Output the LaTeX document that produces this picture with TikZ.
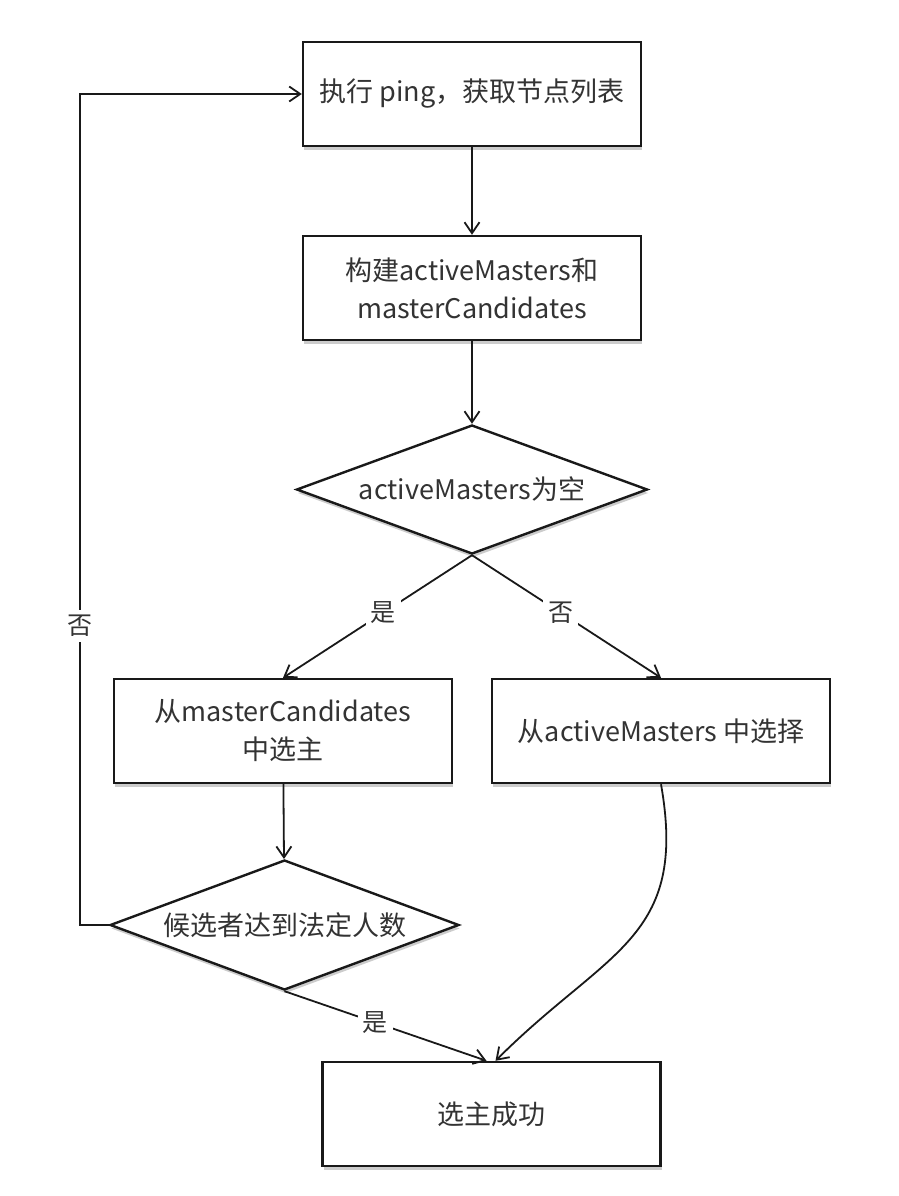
\documentclass[tikz,border=0pt]{standalone}
\usepackage{fontspec}
\usepackage{tikz}
\usetikzlibrary{shapes.geometric,arrows.meta,shadows}
\newfontfamily\cjk{Noto Sans CJK SC}

\begin{document}
\begin{tikzpicture}[x=1pt, y=-1pt, node distance=194pt,
    every node/.style={font=\cjk\fontsize{27}{38}\selectfont, text=black!80, align=center},
    box/.style={rectangle, draw=black!90, line width=2.4pt, fill=white, minimum width=338pt, minimum height=104pt,
      drop shadow={shadow xshift=1pt, shadow yshift=-3.5pt, opacity=0.4}},
    decision/.style={diamond, draw=black!90, line width=2.4pt, fill=white, aspect=2.7, inner sep=0pt,
      drop shadow={shadow xshift=1pt, shadow yshift=-3.5pt, opacity=0.4}},
    lbl/.style={fill=white, inner sep=5pt, font=\cjk\fontsize{25}{30}\selectfont},
    arr/.style={draw=black!90, line width=1.8pt, -{Straight Barb[length=11pt, width=15pt, line width=1.8pt]}}]
      \useasboundingbox (0,0) rectangle (898,1196);

      \node[box] (ping) at (472,94) {执行 ping，获取节点列表};
      \node[box] (build) [below of=ping] {构建activeMasters和\\masterCandidates};
      \node[decision, minimum width=351pt, minimum height=129pt] (check) [below of=build, yshift=-7.5pt] {activeMasters为空};
      \node[box] (fromcand) [below of=check, xshift=-189pt, yshift=-47.5pt] {从masterCandidates\\中选主};
      \node[box] (fromactive) [below of=check, xshift=189pt, yshift=-47.5pt] {从activeMasters 中选择};
      \node[decision, minimum width=349pt, minimum height=130pt] (quorum) [below of=fromcand, xshift=1.5pt] {候选者达到法定人数};
      \node[box] (success) [below of=quorum, xshift=207pt, yshift=5pt] {选主成功};

      \draw[arr] (ping) -- (build);
      \draw[arr] (build) -- (check);
      \draw[arr] (check.south) -- node[lbl, pos=0.47] {是} (fromcand.north);
      \draw[arr] (check.south) -- node[lbl, pos=0.47] {否} (fromactive.north);
      \draw[arr] (fromcand) -- (quorum);
      \draw[arr] (quorum.south) -- node[lbl, pos=0.45] {是} ([xshift=-5pt]success.north);
      \draw[arr] (fromactive.south) to[out=-80, in=45, looseness=1.25] ([xshift=4pt]success.north);
      \draw[arr] (quorum.west) -- ++(-29,0) |- node[lbl, pos=0.18] {否} (ping.west);
    \end{tikzpicture}
\end{document}
